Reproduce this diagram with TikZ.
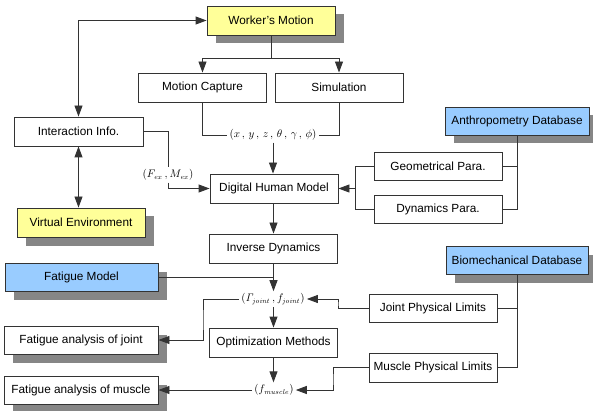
\documentclass[tikz,border=0pt]{standalone}
\usepackage[no-math]{fontspec}
\setmainfont{Liberation Sans}
\usetikzlibrary{arrows.meta,shadows}
\definecolor{yel}{HTML}{FFFF99}
\definecolor{blu}{HTML}{99CCFF}
\definecolor{shd}{HTML}{868686}
\definecolor{ln}{HTML}{333333}
\begin{document}
\begin{tikzpicture}[x=1pt,y=-1pt,
  box/.style={draw=ln,line width=0.9pt,fill=white,inner sep=0pt,minimum width=128pt,minimum height=29pt,font=\fontsize{11.8}{13}\selectfont},
  shad/.style={drop shadow={shadow xshift=8.5pt,shadow yshift=-8.5pt,fill=shd,opacity=1}},
  ybox/.style={box,fill=yel,shad},
  bbox/.style={box,fill=blu,shad},
  wbox/.style={box,shad},
  lab/.style={inner sep=2pt,font=\fontsize{10.5}{12}\selectfont},
  con/.style={draw=ln,line width=0.9pt},
  arr/.style={con,-{Triangle[length=11pt,width=8pt]}},
  darr/.style={con,{Triangle[length=11pt,width=8pt]}-{Triangle[length=11pt,width=8pt]}}]
\useasboundingbox (0,0) rectangle (593,411);
% nodes
\node[ybox] (WM) at (271,20.5) {Worker's Motion};
\node[box] (MC) at (202.5,87.5) {Motion Capture};
\node[box] (Sim) at (339,87.5) {Simulation};
\node[box,minimum width=129pt] (II) at (78.5,131.5) {Interaction Info.};
\node[ybox] (VE) at (81,222.5) {Virtual Environment};
\node[box] (DHM) at (274,188.5) {Digital Human Model};
\node[bbox,minimum width=144pt,minimum height=28pt] (AD) at (517,121) {Anthropometry Database};
\node[box,minimum height=28pt] (GP) at (438,166) {Geometrical Para.};
\node[box,minimum height=28pt] (DP) at (438,209) {Dynamics Para.};
\node[box] (ID) at (273.5,248.5) {Inverse Dynamics};
\node[bbox,minimum width=153pt,minimum height=28pt] (FM) at (81.5,277) {Fatigue Model};
\node[box] (Opt) at (273.5,342.5) {Optimization Methods};
\node[wbox,minimum width=154pt,minimum height=28pt] (FAJ) at (81,340) {Fatigue analysis of joint};
\node[wbox,minimum width=154pt,minimum height=28pt] (FAM) at (81,390) {Fatigue analysis of muscle};
\node[bbox,minimum width=142pt,minimum height=28pt] (BD) at (517,260) {Biomechanical Database};
\node[box,minimum height=28pt] (JPL) at (433,308) {Joint Physical Limits};
\node[box,minimum height=29pt] (MPL) at (433,367.5) {Muscle Physical Limits};
% labels
\node[lab] (xyz) at (273,135) {$(x\,,\,y\,,\,z\,,\,\theta\,,\,\gamma\,,\,\phi)$};
\node[lab] (Fex) at (168,175) {$(F_{\mathit{ex}}\,,M_{\mathit{ex}})$};
\node[lab] (Gam) at (273,299) {$(\mathit{\Gamma}_{\mathit{joint}}\,,f_{\mathit{joint}})$};
\node[lab] (fm) at (274,390) {$(f_{\mathit{muscle}})$};
% coordinates
\coordinate (j1) at (271,58);
\coordinate (j2) at (355,188.5);
\coordinate (c3) at (203,320);
\coordinate (c4) at (338,304);
\coordinate (c5) at (333,380);
% connectors
\draw[con] (WM.south) -- (j1);
\draw[arr] (j1) -| (MC.north);
\draw[arr] (j1) -| (Sim.north);
\draw[darr] (II.north) |- (WM.west);
\draw[darr] (II.south) -- (II.south |- VE.north);
\draw[con] (II.east) -| (Fex.north);
\draw[arr] (Fex.south) |- (DHM.west);
\draw[con] (MC.south) |- (xyz.west);
\draw[con] (Sim.south) |- (xyz.east);
\draw[arr] (xyz.south) -- (xyz.south |- DHM.north);
\draw[con] (AD.south) |- (DP.east);
\draw[con] (GP.east) -- (GP.east -| AD.south);
\draw[con] (GP.west) -| (j2);
\draw[con] (DP.west) -| (j2);
\draw[arr] (j2) -- (DHM.east);
\draw[arr] (DHM.south -| ID.north) -- (ID.north);
\draw[arr] (ID.south) -- (ID.south |- Gam.north);
\draw[con] (FM.east) -- (FM.east -| ID.south);
\draw[arr] (Gam.south -| Opt.north) -- (Opt.north);
\draw[arr] (Gam.west) -| (c3) |- (FAJ.east);
\draw[arr] (Opt.south) -- (Opt.south |- fm.north);
\draw[arr] (fm.west) -- (FAM.east);
\draw[con] (BD.south) |- (MPL.east);
\draw[con] (JPL.east) -- (JPL.east -| BD.south);
\draw[arr] (JPL.west) -| (c4) |- (Gam.east);
\draw[arr] (MPL.west) -| (c5) |- (fm.east);
\end{tikzpicture}
\end{document}
